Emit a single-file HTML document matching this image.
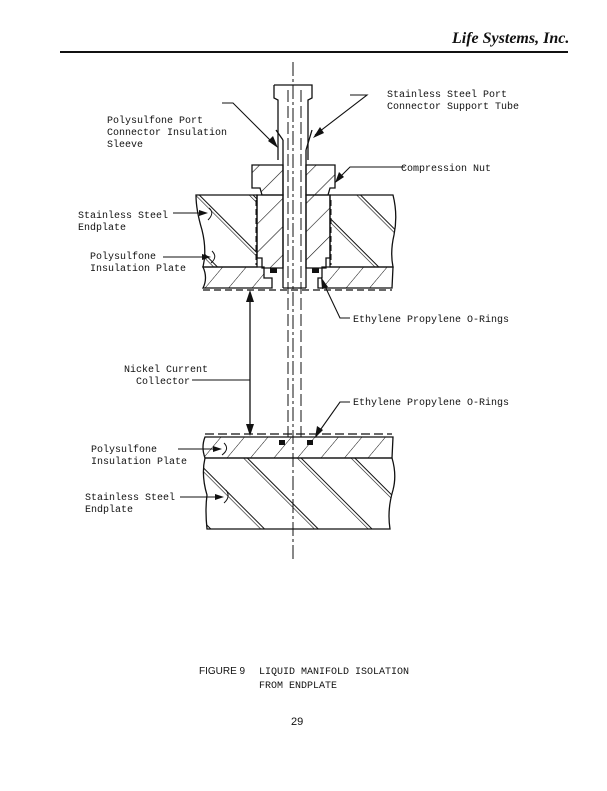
<!DOCTYPE html>
<html><head><meta charset="utf-8"><style>
html,body{margin:0;padding:0;background:#fff;}
svg{display:block;}
text{font-family:"Liberation Mono",monospace;font-size:10px;fill:#111;}
</style></head><body>
<svg width="607" height="791" viewBox="0 0 607 791" xmlns="http://www.w3.org/2000/svg">
<defs>
<pattern id="hb" patternUnits="userSpaceOnUse" width="38" height="38" patternTransform="rotate(-45)">
<line x1="0" y1="0" x2="0" y2="38" stroke="#111" stroke-width="1.2"/><line x1="3" y1="0" x2="3" y2="38" stroke="#111" stroke-width="1"/>
</pattern>
<pattern id="hs" patternUnits="userSpaceOnUse" width="18" height="18" patternTransform="rotate(40)">
<line x1="0" y1="0" x2="0" y2="18" stroke="#111" stroke-width="1"/>
</pattern>
<pattern id="hsl" patternUnits="userSpaceOnUse" width="20" height="20" patternTransform="rotate(45)">
<line x1="0" y1="0" x2="0" y2="20" stroke="#111" stroke-width="1.2"/>
</pattern>
</defs>
<text x="452" y="43" style="font-family:'Liberation Serif',serif;font-style:italic;font-weight:bold;font-size:16px;">Life Systems, Inc.</text>
<line x1="60" y1="52" x2="568" y2="52" stroke="#111" stroke-width="2"/>

<g stroke="#111" stroke-width="1.3" fill="none">
<path d="M196,195 L257,195 L257,267 L203,267 Q207,250 202,230 Q196,210 196,195 Z" fill="url(#hb)"/>
<path d="M330,195 L393,195 Q398,215 394,235 Q390,252 393,267 L330,267 Z" fill="url(#hb)"/>
<path d="M203,267 L264,267 L264,278 L272,278 L272,288 L203,288 Q208,278 203,267 Z" fill="url(#hs)"/>
<path d="M322,267 L393,267 L392,288 L318,288 L318,278 L322,278 Z" fill="url(#hs)"/>
<line x1="203" y1="290" x2="392" y2="290" stroke-dasharray="7,4"/>
<path d="M252,165 L283,165 L283,195 L262,195 L260,188 L252,188 Z" fill="url(#hsl)"/>
<path d="M306,165 L335,165 L335,188 L330,188 L328,195 L306,195 Z" fill="url(#hsl)"/>
<path d="M257,195 L283,195 L283,268 L262,268 L262,258 L257,258 Z" fill="url(#hsl)"/>
<path d="M306,195 L330,195 L330,258 L326,258 L326,268 L306,268 Z" fill="url(#hsl)"/>
<path d="M276,130 L283,140 M312,130 L306,150"/>
<path d="M274,85 L312,85 L312,98 L308,100 L308,160 M274,85 L274,98 L278,100 L278,160"/>
<line x1="283" y1="140" x2="283" y2="288"/>
<line x1="306" y1="150" x2="306" y2="288"/>
<line x1="283" y1="288" x2="306" y2="288"/>
<path d="M205,437 L393,437 L392,458 L205,458 Q201,447 205,437 Z" fill="url(#hs)"/>
<line x1="205" y1="434" x2="392" y2="434" stroke-dasharray="9,4"/>
<path d="M205,458 L392,458 Q397,475 393,490 Q387,510 390,529 L207,529 Q205,510 207,495 Q201,475 205,458 Z" fill="url(#hb)"/>
<line x1="250" y1="293" x2="250" y2="433"/>
<line x1="192" y1="380" x2="250" y2="380" stroke-width="1"/>
</g>
<g fill="#111">
<polygon points="250,290 246,302 254,302"/><polygon points="250,436 246,424 254,424"/>
<rect x="270" y="268" width="7" height="5"/><rect x="312" y="268" width="7" height="5"/>
<rect x="279" y="440" width="6" height="5"/><rect x="307" y="440" width="6" height="5"/>
</g>
<g stroke="#111" stroke-width="1" fill="none">
<line x1="293" y1="62" x2="293" y2="560" stroke-dasharray="14,3,3,3"/>
<line x1="288" y1="90" x2="288" y2="437" stroke-dasharray="12,4"/>
<line x1="301" y1="90" x2="301" y2="437" stroke-dasharray="12,4"/>
<line x1="256" y1="200" x2="256" y2="265" stroke-dasharray="6,3"/>
<line x1="331" y1="200" x2="331" y2="265" stroke-dasharray="6,3"/>
</g>
<g stroke="#111" stroke-width="1.1" fill="none">
<path d="M350,95 L367,95 L315,135"/>
<path d="M222,103 L233,103 L275,145"/>
<path d="M405,167 L350,167 L337,180"/>
<path d="M173,213 L203,213"/>
<path d="M163,257 L206,257"/>
<path d="M350,318 L340,318 L322,280"/>
<path d="M178,449 L218,449"/>
<path d="M180,497 L220,497"/>
<path d="M350,402 L340,402 L316,436"/>
</g>
<g fill="#111">
<polygon points="313,138 320,127 324,133"/><polygon points="278,148 268,141 273,136"/>
<polygon points="335,183 339,172 344,177"/><polygon points="321,277 328,287 322,289"/>
<polygon points="315,438 317,426 323,430"/>
<polygon points="208,213 199,210 199,216"/><polygon points="211,257 202,254 202,260"/><polygon points="222,449 213,446 213,452"/><polygon points="224,497 215,494 215,500"/>
</g>
<g stroke="#111" stroke-width="1" fill="none">
<path d="M209,208 Q215,213 208,220 M212,251 Q218,257 211,263 M224,443 Q230,449 222,455 M226,490 Q231,497 224,503"/>
</g>
<text x="387" y="97">Stainless Steel Port</text>
<text x="387" y="109">Connector Support Tube</text>
<text x="107" y="123">Polysulfone Port</text>
<text x="107" y="135">Connector Insulation</text>
<text x="107" y="147">Sleeve</text>
<text x="401" y="171">Compression Nut</text>
<text x="78" y="218">Stainless Steel</text>
<text x="78" y="230">Endplate</text>
<text x="90" y="259">Polysulfone</text>
<text x="90" y="271">Insulation Plate</text>
<text x="353" y="322">Ethylene Propylene O-Rings</text>
<text x="124" y="372">Nickel Current</text>
<text x="136" y="384">Collector</text>
<text x="353" y="405">Ethylene Propylene O-Rings</text>
<text x="91" y="452">Polysulfone</text>
<text x="91" y="464">Insulation Plate</text>
<text x="85" y="500">Stainless Steel</text>
<text x="85" y="512">Endplate</text>
<text x="199" y="674" style="font-family:'Liberation Sans',sans-serif;font-size:10px">FIGURE 9</text>
<text x="259" y="674">LIQUID MANIFOLD ISOLATION</text>
<text x="259" y="688">FROM ENDPLATE</text>
<text x="291" y="725" style="font-family:'Liberation Sans',sans-serif;font-size:11px">29</text>
</svg>
</body></html>
